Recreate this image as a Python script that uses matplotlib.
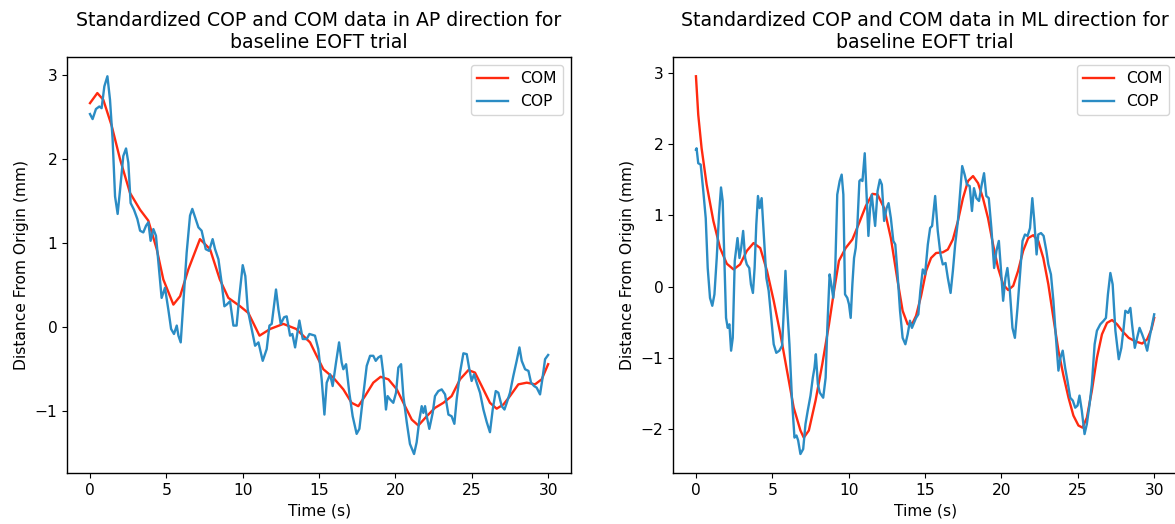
import matplotlib
matplotlib.use('Agg')
import matplotlib.pyplot as plt

# AP direction
ap_com_t = [0, 0.48, 0.87, 1.42, 1.97, 2.62, 3.28, 3.82, 4.37, 4.80, 5.46, 5.9, 6.44,
            7.2, 7.86, 8.5, 9.06, 9.83, 10.37, 11.1, 11.8, 12.66, 13.5, 14.41, 14.84,
            15.28, 15.93, 16.59, 17.13, 17.57, 18.01, 18.55, 19.03, 19.54, 20.09,
            20.63, 21.07, 21.5, 22.05, 22.59, 23.14, 23.68, 24.23, 24.78, 25.21,
            25.65, 26.19, 26.63, 27.07, 27.5, 28.05, 28.6, 29.14, 29.58, 30.0]
ap_com = [2.67, 2.79, 2.71, 2.40, 2.0, 1.60, 1.40, 1.27, 0.93, 0.57, 0.27, 0.37, 0.69,
          1.05, 0.93, 0.57, 0.35, 0.25, 0.17, -0.10, -0.02, 0.04, -0.02, -0.18, -0.34,
          -0.50, -0.60, -0.74, -0.90, -0.94, -0.82, -0.66, -0.59, -0.62, -0.74,
          -0.94, -1.10, -1.17, -1.06, -0.96, -0.90, -0.82, -0.62, -0.51, -0.54,
          -0.70, -0.90, -0.97, -0.92, -0.82, -0.68, -0.66, -0.68, -0.62, -0.44]

ap_cop_t = [0, 0.17, 0.39, 0.61, 0.76, 0.94, 1.14, 1.31, 1.48, 1.64, 1.81, 1.97, 2.18,
            2.36, 2.51, 2.66, 2.88, 3.1, 3.28, 3.49, 3.67, 3.82, 3.97, 4.15, 4.32, 4.50,
            4.69, 4.91, 5.13, 5.31, 5.5, 5.68, 5.79, 5.94, 6.11, 6.33, 6.55, 6.70, 6.92,
            7.1, 7.31, 7.58, 7.8, 8.03, 8.19, 8.41, 8.62, 8.8, 8.95, 9.17, 9.39, 9.6,
            9.78, 10.0, 10.17, 10.33, 10.59, 10.81, 11.03, 11.31, 11.57, 11.75, 11.9,
            12.18, 12.34, 12.49, 12.71, 12.88, 13.1, 13.25, 13.43, 13.71, 13.93, 14.19,
            14.37, 14.73, 14.95, 15.17, 15.35, 15.5, 15.72, 15.89, 16.11, 16.31, 16.48,
            16.59, 16.77, 16.98, 17.2, 17.46, 17.64, 17.86, 18.12, 18.34, 18.55, 18.71,
            18.88, 19.06, 19.21, 19.38, 19.49, 19.65, 19.86, 20.04, 20.19, 20.37, 20.52,
            20.74, 20.95, 21.22, 21.39, 21.57, 21.72, 21.83, 21.94, 22.05, 22.22, 22.44,
            22.59, 22.81, 23.03, 23.25, 23.47, 23.68, 23.86, 24.01, 24.23, 24.45, 24.67,
            24.84, 24.99, 25.15, 25.32, 25.54, 25.76, 25.98, 26.19, 26.37, 26.57, 26.74,
            26.96, 27.14, 27.29, 27.5, 27.72, 27.94, 28.12, 28.27, 28.49, 28.71, 28.88,
            29.08, 29.25, 29.47, 29.62, 29.8, 30.0]
ap_cop = [2.54, 2.48, 2.60, 2.63, 2.61, 2.87, 2.99, 2.71, 2.24, 1.56, 1.35, 1.64, 2.04,
          2.13, 1.96, 1.48, 1.40, 1.29, 1.15, 1.13, 1.21, 1.25, 1.03, 1.17, 1.09, 0.73,
          0.35, 0.47, 0.21, -0.02, -0.08, 0.02, -0.10, -0.18, 0.29, 0.89, 1.33, 1.41, 1.29,
          1.19, 1.15, 0.93, 0.91, 1.05, 0.93, 0.81, 0.53, 0.25, 0.27, 0.31, 0.02, 0.02,
          0.37, 0.74, 0.61, 0.21, -0.02, -0.22, -0.18, -0.40, -0.26, 0.02, 0.04,
          0.45, 0.21, 0.04, 0.12, 0.13, -0.10, -0.08, -0.24, 0.08, -0.14, -0.14,
          -0.08, -0.10, -0.26, -0.62, -1.04, -0.66, -0.56, -0.70, -0.42, -0.18, -0.42,
          -0.50, -0.44, -0.78, -1.06, -1.27, -1.21, -0.86, -0.46, -0.34, -0.34, -0.40,
          -0.36, -0.34, -0.56, -0.98, -0.82, -0.86, -0.90, -0.78, -0.48, -0.44, -0.82,
          -1.13, -1.39, -1.51, -1.37, -1.10, -0.94, -1.02, -0.94, -1.06, -1.21, -1.02,
          -0.82, -0.76, -0.74, -0.80, -1.04, -1.06, -1.15, -0.86, -0.54, -0.31, -0.32,
          -0.50, -0.64, -0.56, -0.66, -0.78, -0.98, -1.13, -1.25, -0.98, -0.76, -0.78,
          -0.94, -0.98, -0.90, -0.78, -0.58, -0.40, -0.24, -0.40, -0.50, -0.52, -0.66,
          -0.70, -0.72, -0.80, -0.62, -0.38, -0.33]

# ML direction
ml_com_t = [0, 0.15, 0.37, 0.70, 1.14, 1.58, 2.02, 2.46, 2.89, 3.33, 3.77, 4.21, 4.65,
            5.09, 5.53, 5.96, 6.4, 6.84, 7.06, 7.39, 7.83, 8.27, 8.71, 9.04, 9.36, 9.8,
            10.24, 10.68, 11.12, 11.56, 11.89, 12.32, 12.76, 13.2, 13.53, 13.86, 14.19,
            14.41, 14.74, 15.07, 15.39, 15.72, 16.16, 16.49, 16.82, 17.15, 17.48, 17.81,
            18.14, 18.47, 18.79, 19.12, 19.45, 19.78, 20.11, 20.44, 20.77, 21.09, 21.42,
            21.75, 22.08, 22.41, 22.74, 23.07, 23.4, 23.73, 24.06, 24.39, 24.71, 25.04,
            25.31, 25.59, 25.92, 26.25, 26.58, 26.91, 27.24, 27.57, 27.89, 28.33, 28.77,
            29.21, 29.54, 29.82, 30.0]
ml_com = [2.95, 2.41, 1.94, 1.43, 0.92, 0.54, 0.32, 0.24, 0.31, 0.50, 0.61, 0.54, 0.22,
          -0.20, -0.67, -1.18, -1.70, -2.02, -2.12, -2.02, -1.60, -1.09, -0.53, -0.06,
          0.36, 0.54, 0.66, 0.89, 1.13, 1.30, 1.29, 1.10, 0.68, 0.08, -0.34, -0.53,
          -0.51, -0.41, -0.13, 0.22, 0.40, 0.47, 0.48, 0.52, 0.66, 0.92, 1.24, 1.48,
          1.55, 1.45, 1.24, 0.96, 0.59, 0.26, 0.03, -0.05, 0.01, 0.22, 0.50, 0.68,
          0.72, 0.64, 0.40, 0.03, -0.44, -0.90, -1.25, -1.56, -1.81, -1.95, -1.98,
          -1.84, -1.46, -1.00, -0.67, -0.51, -0.47, -0.53, -0.62, -0.72, -0.77, -0.80,
          -0.74, -0.60, -0.44]

ml_cop_t = [0, 0.04, 0.15, 0.31, 0.48, 0.64, 0.77, 0.92, 1.07, 1.21, 1.36, 1.51, 1.64,
            1.75, 1.86, 1.97, 2.08, 2.19, 2.30, 2.41, 2.54, 2.72, 2.85, 2.96, 3.09, 3.22,
            3.33, 3.49, 3.6, 3.73, 3.84, 3.95, 4.06, 4.17, 4.30, 4.43, 4.61, 4.76, 4.93,
            5.09, 5.26, 5.46, 5.64, 5.75, 5.86, 5.96, 6.12, 6.29, 6.45, 6.58, 6.69, 6.84,
            7.02, 7.17, 7.32, 7.5, 7.65, 7.76, 7.85, 7.98, 8.11, 8.33, 8.49, 8.6, 8.75,
            8.86, 8.99, 9.12, 9.25, 9.41, 9.54, 9.65, 9.76, 9.91, 10.02, 10.13, 10.24,
            10.35, 10.46, 10.57, 10.7, 10.79, 10.9, 11.05, 11.18, 11.29, 11.4, 11.51,
            11.62, 11.73, 11.89, 12.04, 12.17, 12.32, 12.48, 12.61, 12.76, 12.92, 13.05,
            13.2, 13.36, 13.53, 13.71, 13.86, 14.01, 14.14, 14.41, 14.56, 14.69, 14.85,
            15.0, 15.18, 15.33, 15.46, 15.66, 15.83, 16.01, 16.16, 16.34, 16.49, 16.67,
            16.82, 16.97, 17.15, 17.3, 17.43, 17.59, 17.74, 17.92, 18.07, 18.2, 18.36,
            18.53, 18.69, 18.86, 19.01, 19.17, 19.34, 19.52, 19.67, 19.83, 19.96, 20.11,
            20.26, 20.39, 20.55, 20.72, 20.88, 21.05, 21.23, 21.38, 21.54, 21.71, 21.87,
            22.02, 22.15, 22.3, 22.41, 22.59, 22.76, 22.94, 23.07, 23.24, 23.4, 23.55,
            23.73, 23.86, 24.01, 24.17, 24.32, 24.5, 24.67, 24.83, 24.98, 25.11, 25.26,
            25.44, 25.59, 25.77, 25.92, 26.1, 26.25, 26.47, 26.69, 26.84, 26.97, 27.13,
            27.28, 27.46, 27.68, 27.85, 28.0, 28.11, 28.29, 28.44, 28.55, 28.73, 28.88,
            29.04, 29.21, 29.36, 29.54, 29.69, 29.87, 30.0]
ml_cop = [1.92, 1.94, 1.73, 1.71, 1.34, 0.96, 0.26, -0.16, -0.27, -0.11, 0.40, 1.01, 1.39,
          1.20, 0.40, -0.44, -0.58, -0.53, -0.90, -0.72, 0.36, 0.68, 0.40, 0.54, 0.78, 0.40,
          0.31, 0.26, 0.03, -0.09, 0.26, 0.87, 1.27, 1.10, 1.24, 0.78, 0.12, -0.06, -0.44,
          -0.81, -0.93, -0.90, -0.83, -0.34, 0.22, -0.25, -0.81, -1.60, -2.12, -2.09, -2.16,
          -2.35, -2.28, -1.93, -1.74, -1.53, -1.28, -1.14, -0.95, -1.37, -1.49, -1.56,
          -1.28, -0.58, 0.17, 0.03, -0.16, 0.26, 1.29, 1.48, 1.57, 1.29, -0.11, -0.16,
          -0.25, -0.44, 0.03, 0.40, 0.54, 0.87, 1.48, 1.50, 1.48, 1.87, 1.24, 0.71, 1.10,
          1.29, 1.06, 0.85, 1.34, 1.50, 1.43, 0.92, 1.10, 1.17, 0.96, 0.64, 0.59, 0.17,
          -0.34, -0.72, -0.81, -0.67, -0.48, -0.58, -0.44, -0.39, -0.06, 0.24, 0.17, 0.59,
          0.82, 0.85, 1.27, 0.78, 0.45, 0.31, 0.33, 0.12, -0.09, 0.22, 0.59, 0.92, 1.34,
          1.69, 1.57, 1.43, 1.41, 1.06, 1.38, 1.24, 1.20, 1.41, 1.59, 1.27, 1.24, 0.82,
          0.26, 0.50, 0.64, 0.26, -0.20, 0.12, 0.26, -0.06, -0.58, -0.72, -0.30, 0.22,
          0.64, 0.73, 0.71, 0.82, 1.24, 0.92, 0.45, 0.73, 0.75, 0.71, 0.50, 0.31, 0.17,
          -0.20, -0.67, -1.18, -1.00, -0.90, -1.14, -1.32, -1.56, -1.60, -1.70, -1.67,
          -1.53, -1.74, -2.07, -1.93, -1.65, -1.37, -0.81, -0.62, -0.53, -0.48, -0.44,
          -0.11, 0.19, 0.03, -0.62, -1.02, -0.86, -0.58, -0.34, -0.37, -0.30, -0.53,
          -0.86, -0.72, -0.58, -0.67, -0.76, -0.90, -0.72, -0.53, -0.39]

RED = '#ff2a10'
BLUE = '#2b8cc4'

plt.rcParams.update({'font.size': 11.2, 'axes.titlesize': 13.6,
                     'axes.titlepad': 6.5, 'axes.linewidth': 1.0})

fig = plt.figure(figsize=(11.75, 5.24), dpi=100)
ax1 = fig.add_axes([0.0571, 0.0975, 0.4289, 0.793])
ax2 = fig.add_axes([0.5728, 0.0975, 0.4290, 0.793])

panels = [
    (ax1, ap_com_t, ap_com, ap_cop_t, ap_cop, 'AP'),
    (ax2, ml_com_t, ml_com, ml_cop_t, ml_cop, 'ML'),
]
for ax, ct, cv, pt, pv, d in panels:
    ax.plot(ct, cv, color=RED, lw=1.7, label='COM')
    ax.plot(pt, pv, color=BLUE, lw=1.7, label='COP')
    ax.set_title('Standardized COP and COM data in %s direction for\nbaseline EOFT trial' % d)
    ax.set_xlabel('Time (s)')
    ax.set_ylabel('Distance From Origin (mm)')
    ax.set_xticks([0, 5, 10, 15, 20, 25, 30])
    ax.legend(loc='upper right')

fig.savefig('out.png', dpi=100)
